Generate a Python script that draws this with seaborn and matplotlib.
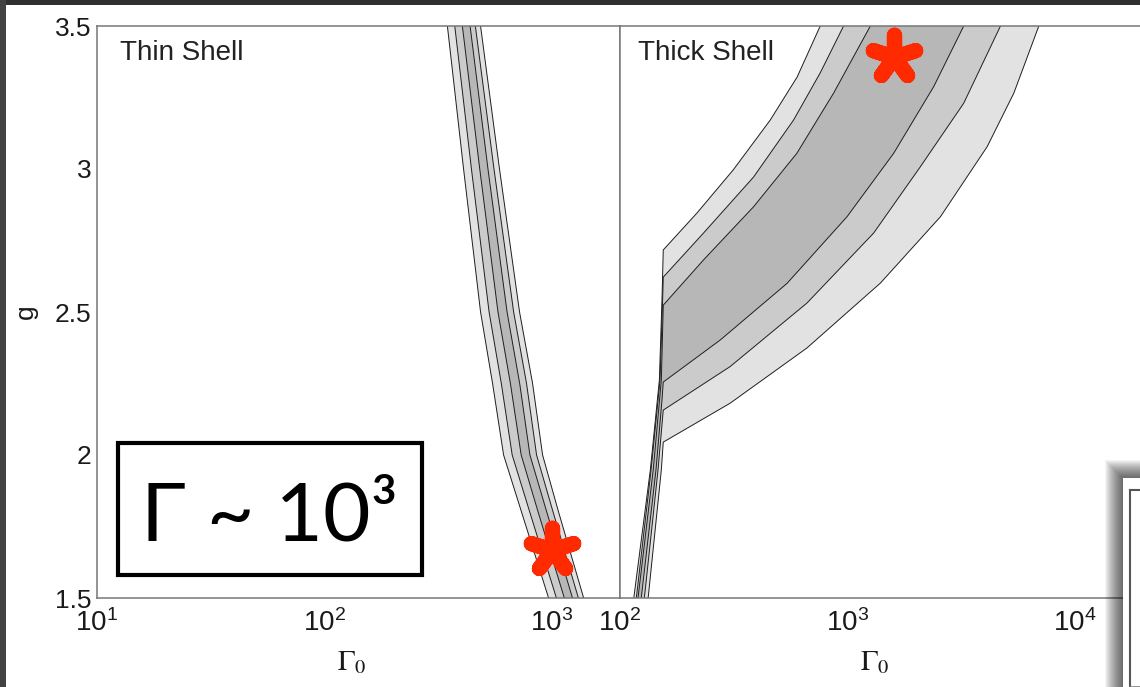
import matplotlib
matplotlib.use("Agg")
import matplotlib.pyplot as plt
from matplotlib.patches import Rectangle
from matplotlib.markers import MarkerStyle
from matplotlib.ticker import NullLocator, NullFormatter
import numpy as np
import seaborn as sns

# ---- thin shell: g levels and Gamma_0 of the six contour lines ----
thin_g = [1.5, 1.8, 2.0, 2.25, 2.5, 3.0, 3.5]
thin_l1 = [970, 738, 615, 550, 487, 410, 348]
thin_l2 = [1050, 802, 671, 601, 531, 444, 375]
thin_l3 = [1138, 873, 735, 659, 581, 483, 405]
thin_r3 = [1236, 953, 803, 724, 637, 525, 438]
thin_r2 = [1312, 1016, 859, 776, 681, 558, 462]
thin_r1 = [1384, 1074, 913, 825, 723, 590, 487]

# ---- thick shell: each contour line has its own g levels ----
thick_g1 = [1.5, 1.948, 2.262, 2.542, 2.717, 2.846, 2.997, 3.171, 3.322, 3.5]
thick_x1 = [115, 136, 149, 153, 155, 218, 315, 458, 602, 760]
thick_g2 = [1.5, 1.948, 2.262, 2.542, 2.622, 2.776, 2.972, 3.171, 3.336, 3.5]
thick_x2 = [118, 137, 150, 154, 155, 233, 387, 580, 760, 963]
thick_g3 = [1.5, 1.948, 2.262, 2.524, 2.682, 2.868, 3.055, 3.265, 3.5]
thick_x3 = [120, 140, 152, 155, 233, 387, 600, 870, 1263]
thick_g4 = [1.5, 1.948, 2.192, 2.255, 2.402, 2.600, 2.833, 3.055, 3.288, 3.5]
thick_x4 = [124, 144, 153, 155, 276, 543, 997, 1600, 2400, 3253]
thick_g5 = [1.5, 1.948, 2.157, 2.309, 2.531, 2.776, 3.008, 3.230, 3.5]
thick_x5 = [128, 147, 155, 305, 664, 1306, 2097, 3253, 4721]
thick_g6 = [1.5, 1.948, 2.045, 2.181, 2.374, 2.601, 2.833, 3.078, 3.265, 3.5]
thick_x6 = [133, 152, 155, 305, 664, 1398, 2569, 4125, 5403, 6961]

# best-fit points (red asterisks)
star_thin = (1007, 1.668)
star_thick = (1600, 3.393)

thin_xticks = [10, 100, 1000]
thick_xticks = [100, 1000, 10000]
g_ticks = [1.5, 2, 2.5, 3, 3.5]
g_ticklabels = ["1.5", "2", "2.5", "3", "3.5"]

light, medium, dark = "#e2e2e2", "#cbcbcb", "#b7b7b7"
red = "#ff2a00"

sns.set_theme(style="white")
plt.rcParams["font.family"] = ["Liberation Sans", "DejaVu Sans"]
plt.rcParams["axes.edgecolor"] = "#777777"
plt.rcParams["axes.linewidth"] = 1.1

fig = plt.figure(figsize=(11.4, 6.87), dpi=100)
fig.patch.set_facecolor("white")

W, H = 1140.0, 687.0
ax1 = fig.add_axes([97 / W, 89 / H, 523 / W, 572 / H])
ax2 = fig.add_axes([620 / W, 89 / H, 523 / W, 572 / H])


def band(ax, left_lines, right_lines):
    # nested filled regions, outer first
    for (xl, gl), (xr, gr), c in zip(left_lines, right_lines, [light, medium, dark]):
        ax.fill(np.r_[xl, xr[::-1]], np.r_[gl, gr[::-1]], color=c, lw=0, zorder=1)
    for x, g in left_lines + right_lines:
        sns.lineplot(x=x, y=g, orient="y", sort=False, estimator=None,
                     color="#1e1e1e", lw=0.7, ax=ax, zorder=2)


for ax in (ax1, ax2):
    ax.set_xscale("log")
    ax.set_ylim(1.5, 3.5)
    ax.set_facecolor("white")

band(ax1,
     [(np.array(thin_l1), np.array(thin_g)), (np.array(thin_l2), np.array(thin_g)),
      (np.array(thin_l3), np.array(thin_g))],
     [(np.array(thin_r1), np.array(thin_g)), (np.array(thin_r2), np.array(thin_g)),
      (np.array(thin_r3), np.array(thin_g))])
band(ax2,
     [(np.array(thick_x1), np.array(thick_g1)), (np.array(thick_x2), np.array(thick_g2)),
      (np.array(thick_x3), np.array(thick_g3))],
     [(np.array(thick_x6), np.array(thick_g6)), (np.array(thick_x5), np.array(thick_g5)),
      (np.array(thick_x4), np.array(thick_g4))])

ax1.set_xlim(10, 2000)
ax2.set_xlim(100, 20000)

star = MarkerStyle((5, 2, 0), joinstyle="round")
for ax, (sx, sy) in ((ax1, star_thin), (ax2, star_thick)):
    ax.plot([sx], [sy], ls="none", marker=star, ms=32, mew=11, color=red,
            zorder=6, clip_on=False)

ax1.set_xticks(thin_xticks)
ax2.set_xticks(thick_xticks)
ax1.set_yticks(g_ticks)
ax1.set_yticklabels(g_ticklabels)
for ax in (ax1, ax2):
    ax.xaxis.set_minor_locator(NullLocator())
    ax.tick_params(axis="x", length=0, pad=8, labelsize=20, colors="#1a1a1a")
    ax.tick_params(axis="y", length=0, pad=4, labelsize=19, colors="#1a1a1a")
    ax.set_xlabel(r"$\Gamma_0$", fontsize=21, math_fontfamily="stix", color="#1a1a1a")
    ax.xaxis.set_label_coords(0.487, -0.088)
ax2.tick_params(axis="y", labelleft=False)
ax2.spines["right"].set_visible(False)
ax1.set_ylabel("g", fontsize=19, color="#1a1a1a")
ax1.yaxis.set_label_coords(-0.114, 0.5)

ax1.text(0.044, 0.975, "Thin Shell", transform=ax1.transAxes, fontsize=20,
         va="top", ha="left", color="#222222")
ax2.text(0.034, 0.975, "Thick Shell", transform=ax2.transAxes, fontsize=20,
         va="top", ha="left", color="#222222")

# boxed annotation
ax1.add_patch(Rectangle((0.040, 0.040), 0.581, 0.231, transform=ax1.transAxes,
                        fill=False, ec="black", lw=3.0, zorder=7, clip_on=False))
ax1.text(0.329, 0.101, "Γ ~ 10³", transform=ax1.transAxes, fontsize=59,
         family=["Lato", "DejaVu Sans"], ha="center", va="baseline",
         color="black", zorder=8)

# slide frame: dark bars on top and left
fig.add_artist(Rectangle((0, 1 - 5 / H), 1, 5 / H, transform=fig.transFigure,
                         color="#303030", lw=0, zorder=10))
fig.add_artist(Rectangle((0, 0), 6 / W, 1, transform=fig.transFigure,
                         color="#424242", lw=0, zorder=10))

# overlapping picture in the lower right corner, with its drop shadow
for i in range(18, 0, -1):
    fig.add_artist(Rectangle(((1123 - i) / W, 0), (17 + i) / W, (209 + i) / H,
                             transform=fig.transFigure, color="black",
                             alpha=0.045, lw=0, zorder=11))
fig.add_artist(Rectangle((1123 / W, 0), 17 / W, 209 / H, transform=fig.transFigure,
                         color="white", lw=0, zorder=12))
axi = fig.add_axes([1130 / W, 0, 30 / W, 197 / H], zorder=13)
axi.set_yscale("log")
axi.set_ylim(1.4, 20.2)
axi.set_xticks([])
axi.yaxis.set_major_formatter(NullFormatter())
axi.yaxis.set_minor_formatter(NullFormatter())
axi.tick_params(axis="y", which="both", direction="in", length=4, color="#555555")
axi.tick_params(axis="y", which="major", length=6)
for s in ("left", "top"):
    axi.spines[s].set_color("#555555")
    axi.spines[s].set_linewidth(1.5)

fig.savefig("out.png", dpi=100)
